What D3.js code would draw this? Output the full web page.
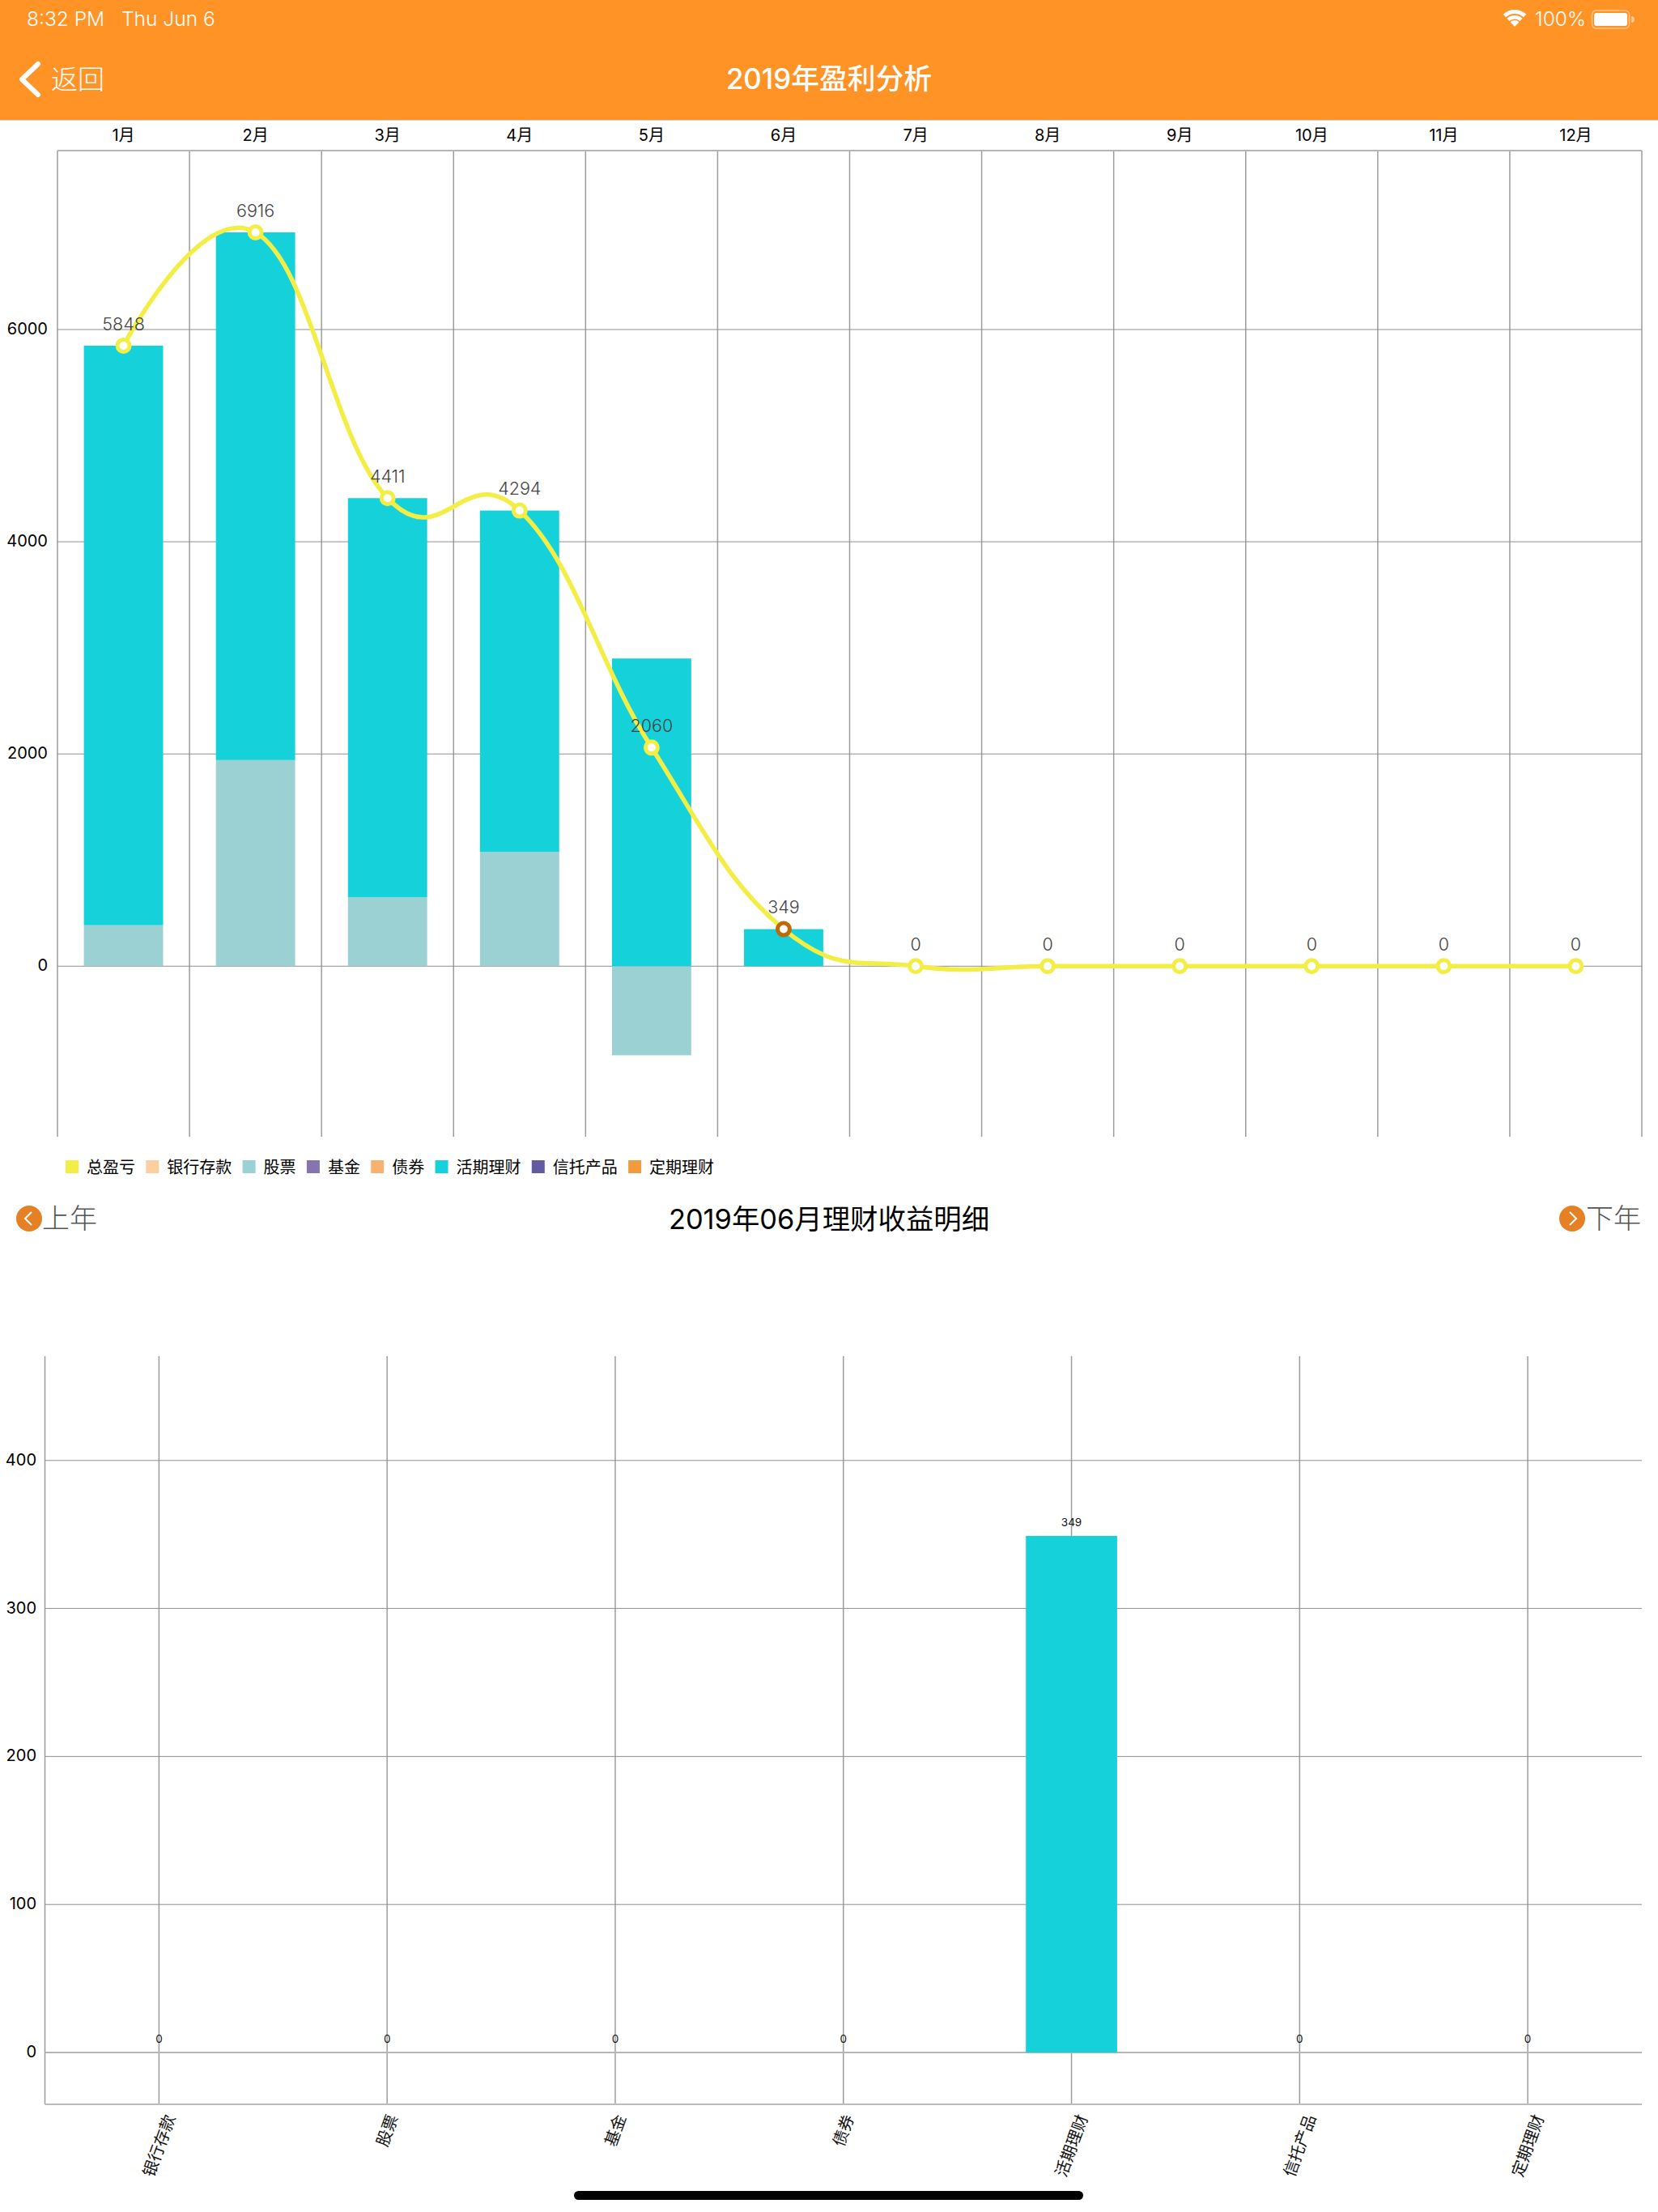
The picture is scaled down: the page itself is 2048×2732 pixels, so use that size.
<!DOCTYPE html>
<html><head><meta charset="utf-8">
<script src="https://cdn.jsdelivr.net/npm/d3@7/dist/d3.min.js"></script>
<style>
html,body{margin:0;padding:0;background:#fff}
svg{display:block}
text{font-family:Inter,"Noto Sans CJK SC",sans-serif}
.cjk{font-family:"Noto Sans CJK SC",Inter,sans-serif}
</style></head><body>
<svg id="c" width="2048" height="2732"></svg>
<script>
const months=["1月","2月","3月","4月","5月","6月","7月","8月","9月","10月","11月","12月"];
const legendNames=["总盈亏","银行存款","股票","基金","债券","活期理财","信托产品","定期理财"];
const legendColors=["#F2EE45","#FBCF9F","#9BD1D2","#8574B0","#F8B26F","#15D1DA","#645AA0","#F09B40"];
const totalProfit=[5848,6916,4411,4294,2060,349,0,0,0,0,0,0];
const bankDeposit=[0,0,0,0,0,0,0,0,0,0,0,0];
const stocks=[386,1942,650,1077,-840,0,0,0,0,0,0,0];
const funds=[0,0,0,0,0,0,0,0,0,0,0,0];
const bonds=[0,0,0,0,0,0,0,0,0,0,0,0];
const currentWealth=[5462,4974,3761,3217,2900,349,0,0,0,0,0,0];
const trustProducts=[0,0,0,0,0,0,0,0,0,0,0,0];
const fixedWealth=[0,0,0,0,0,0,0,0,0,0,0,0];
const yTicksTop=[0,2000,4000,6000];
const detailCategories=["银行存款","股票","基金","债券","活期理财","信托产品","定期理财"];
const detailValues=[0,0,0,0,349,0,0];
const yTicksBottom=[0,100,200,300,400];
const selectedMonth=5;

const svg=d3.select("#c");
const ORANGE="#FF9326",GRID="#9c9c9c";
// ---------- header ----------
svg.append("rect").attr("width",2048).attr("height",148).attr("fill",ORANGE);
svg.append("rect").attr("y",148).attr("width",2048).attr("height",1).attr("fill","#c9ced6");
const hdr=svg.append("g").attr("fill","#fff");
hdr.append("text").attr("x",33).attr("y",32).attr("font-size",24.5).attr("font-weight",300).text("8:32 PM");
hdr.append("text").attr("x",150).attr("y",32).attr("font-size",24.5).attr("font-weight",300).text("Thu Jun 6");
hdr.append("text").attr("x",1896).attr("y",32).attr("font-size",24.5).attr("font-weight",300).text("100%");
hdr.append("path").attr("d","M47 79 L27 98 L47 117").attr("fill","none").attr("stroke","#fff").attr("stroke-width",6).attr("stroke-linecap","round").attr("stroke-linejoin","round");
hdr.append("text").attr("class","cjk").attr("x",63).attr("y",110).attr("font-size",33).attr("font-weight",300).text("返回");
hdr.append("text").attr("x",1024).attr("y",110).attr("font-size",34.8).attr("font-weight",500).attr("text-anchor","middle").text("2019年盈利分析");
// wifi
const wifi=hdr.append("g").attr("transform","translate(1871,33)");
[[21,5],[14,4.5],[7,7]].forEach(([r,w],i)=>{
  wifi.append("path").attr("d",d3.arc()({innerRadius:i==2?0:r-w,outerRadius:r+(i==2?1:0),startAngle:-Math.PI/4.2,endAngle:Math.PI/4.2}));
});
// battery
hdr.append("rect").attr("x",1966.5).attr("y",13).attr("width",46).attr("height",22).attr("rx",5).attr("fill","none").attr("stroke","#fff").attr("stroke-opacity",.45).attr("stroke-width",1.5);
hdr.append("rect").attr("x",1969).attr("y",16).attr("width",41).attr("height",16).attr("rx",3);
hdr.append("path").attr("d","M2015 20 a4 4 0 0 1 0 8 z").attr("fill-opacity",.5);

// ---------- top chart ----------
const T={l:71,r:2028,t:186,b:1404,zero:1193.3};
const pxPerUnit=(1193.3-407)/6000;
const yTop=d3.scaleLinear().domain([(T.zero-T.b)/pxPerUnit,(T.zero-T.t)/pxPerUnit]).range([T.b,T.t]);
const xTop=d3.scaleBand().domain(months).range([T.l,T.r]).paddingInner(0).paddingOuter(0);
const gT=svg.append("g");
// grid
const edges=months.map(m=>xTop(m)).concat([T.r]);
gT.selectAll(".v").data(edges).join("line").attr("x1",d=>d).attr("x2",d=>d).attr("y1",T.t).attr("y2",T.b).attr("stroke",GRID).attr("stroke-width",1.5);
gT.selectAll(".h").data(yTicksTop).join("line").attr("x1",T.l).attr("x2",T.r).attr("y1",d=>yTop(d)).attr("y2",d=>yTop(d)).attr("stroke","#8f8f8f").attr("stroke-width",1);
gT.append("line").attr("x1",T.l).attr("x2",T.r).attr("y1",T.t).attr("y2",T.t).attr("stroke","#b5b5b5").attr("stroke-width",2);
gT.selectAll(".yl").data(yTicksTop).join("text").attr("x",59).attr("y",d=>yTop(d)).attr("dy","0.3em").attr("text-anchor","end").attr("font-size",20).attr("fill","#000").text(d=>d);
gT.selectAll(".xl").data(months).join("text").attr("x",d=>xTop(d)+xTop.bandwidth()/2).attr("y",174).attr("text-anchor","middle").attr("font-size",20).attr("fill","#000").text(d=>d);
// stacked bars
const seriesArrays=[bankDeposit,stocks,funds,bonds,currentWealth,trustProducts,fixedWealth];
const seriesColors=legendColors.slice(1);
const rows=months.map((m,i)=>{const o={m};seriesArrays.forEach((s,k)=>o[k]=s[i]);return o;});
const stacked=d3.stack().keys(seriesArrays.map((_,k)=>k)).offset(d3.stackOffsetDiverging)(rows);
const barW=xTop.bandwidth()*0.6;
stacked.forEach((layer,k)=>{
  gT.append("g").attr("fill",seriesColors[k]).selectAll("rect").data(layer.filter(d=>d[0]!==d[1])).join("rect")
    .attr("x",d=>xTop(d.data.m)+(xTop.bandwidth()-barW)/2).attr("width",barW)
    .attr("y",d=>yTop(Math.max(d[0],d[1]))).attr("height",d=>Math.abs(yTop(d[0])-yTop(d[1])));
});
const cx=i=>xTop(months[i])+xTop.bandwidth()/2;
const line=d3.line().x((d,i)=>cx(i)).y(d=>yTop(d)).curve(d3.curveCardinal.tension(-0.26));
gT.append("path").attr("d",line(totalProfit)).attr("fill","none").attr("stroke",legendColors[0]).attr("stroke-width",5.5);
gT.selectAll(".pt").data(totalProfit).join("circle").attr("cx",(d,i)=>cx(i)).attr("cy",d=>yTop(d)).attr("r",7.5).attr("fill","#fff")
  .attr("stroke",(d,i)=>i==selectedMonth?"#BF6A09":legendColors[0]).attr("stroke-width",5);
gT.selectAll(".lb").data(totalProfit).join("text").attr("x",(d,i)=>cx(i)).attr("y",d=>yTop(d)-27).attr("dy","0.36em").attr("text-anchor","middle").attr("font-size",21.5).attr("font-weight",300).attr("fill","#444").text(d=>d);
// legend
let lx=81;
const lg=svg.append("g");
legendNames.forEach((n,i)=>{
  lg.append("rect").attr("x",lx).attr("y",1433).attr("width",16).attr("height",16).attr("fill",legendColors[i]);
  lg.append("text").attr("class","cjk").attr("x",lx+26).attr("y",1449).attr("font-size",20).attr("fill","#000").text(n);
  lx+=26+n.length*20+13.3;
});
// nav row
function navBtn(x,dir){
  svg.append("circle").attr("cx",x).attr("cy",1505).attr("r",16).attr("fill","#E68025");
  svg.append("path").attr("d",dir<0?`M${x+3} 1497 L${x-5} 1505 L${x+3} 1513`:`M${x-3} 1497 L${x+5} 1505 L${x-3} 1513`).attr("fill","none").attr("stroke","#fff").attr("stroke-width",2);
}
navBtn(36,-1);navBtn(1942,1);
svg.append("text").attr("class","cjk").attr("x",52).attr("y",1517).attr("font-size",34).attr("font-weight",300).attr("fill","#555").text("上年");
svg.append("text").attr("class","cjk").attr("x",1959).attr("y",1517).attr("font-size",34).attr("font-weight",300).attr("fill","#555").text("下年");
svg.append("text").attr("x",1024).attr("y",1518).attr("text-anchor","middle").attr("font-size",34.4).attr("fill","#000").text("2019年06月理财收益明细");

// ---------- bottom chart ----------
const B={l:55.5,r:2028,t:1675,b:2599,zero:2535};
const px2=(2535-1897)/349;
const yBot=d3.scaleLinear().domain([(B.zero-B.b)/px2,(B.zero-B.t)/px2]).range([B.b,B.t]);
const xBot=d3.scaleBand().domain(detailCategories).range([B.l,B.r]);
const gB=svg.append("g");
const cb=d=>xBot(d)+xBot.bandwidth()/2;
gB.append("line").attr("x1",B.l).attr("x2",B.l).attr("y1",B.t).attr("y2",B.b).attr("stroke",GRID).attr("stroke-width",1.5);
gB.selectAll(".v").data(detailCategories).join("line").attr("x1",cb).attr("x2",cb).attr("y1",B.t).attr("y2",B.b).attr("stroke",GRID).attr("stroke-width",1.5);
gB.selectAll(".h").data(yTicksBottom).join("line").attr("x1",B.l).attr("x2",B.r).attr("y1",d=>yBot(d)).attr("y2",d=>yBot(d)).attr("stroke",d=>d==0?"#b5b5b5":"#8f8f8f").attr("stroke-width",d=>d==0?2:1);
gB.append("line").attr("x1",B.l).attr("x2",B.r).attr("y1",B.b).attr("y2",B.b).attr("stroke","#bbb").attr("stroke-width",2);
gB.selectAll(".yl").data(yTicksBottom).join("text").attr("x",45).attr("y",d=>yBot(d)).attr("dy","0.3em").attr("text-anchor","end").attr("font-size",20).attr("fill","#000").text(d=>d);
const bw2=xBot.bandwidth()*0.4;
gB.selectAll(".bar").data(detailValues).join("rect").attr("x",(d,i)=>cb(detailCategories[i])-bw2/2).attr("width",bw2)
  .attr("y",d=>yBot(d)).attr("height",d=>yBot(0)-yBot(d)).attr("fill",legendColors[5]);
gB.selectAll(".lb").data(detailValues).join("text").attr("x",(d,i)=>cb(detailCategories[i])).attr("y",d=>yBot(d)-17).attr("dy","0.36em").attr("text-anchor","middle").attr("font-size",13.5).attr("fill","#111").text(d=>d);
const sin70=Math.sin(70*Math.PI/180),cos70=Math.cos(70*Math.PI/180);
detailCategories.forEach(c=>{
  const L=c.length*20,h=L*sin70+20*cos70,cy=2609+h/2;
  gB.append("text").attr("class","cjk").attr("transform",`translate(${cb(c)},${cy}) rotate(-70)`).attr("dy","0.36em").attr("text-anchor","middle").attr("font-size",20).attr("fill","#111").text(c);
});
// home indicator
svg.append("rect").attr("x",709).attr("y",2706).attr("width",629).attr("height",11).attr("rx",5.5).attr("fill","#000");
</script>
</body></html>
